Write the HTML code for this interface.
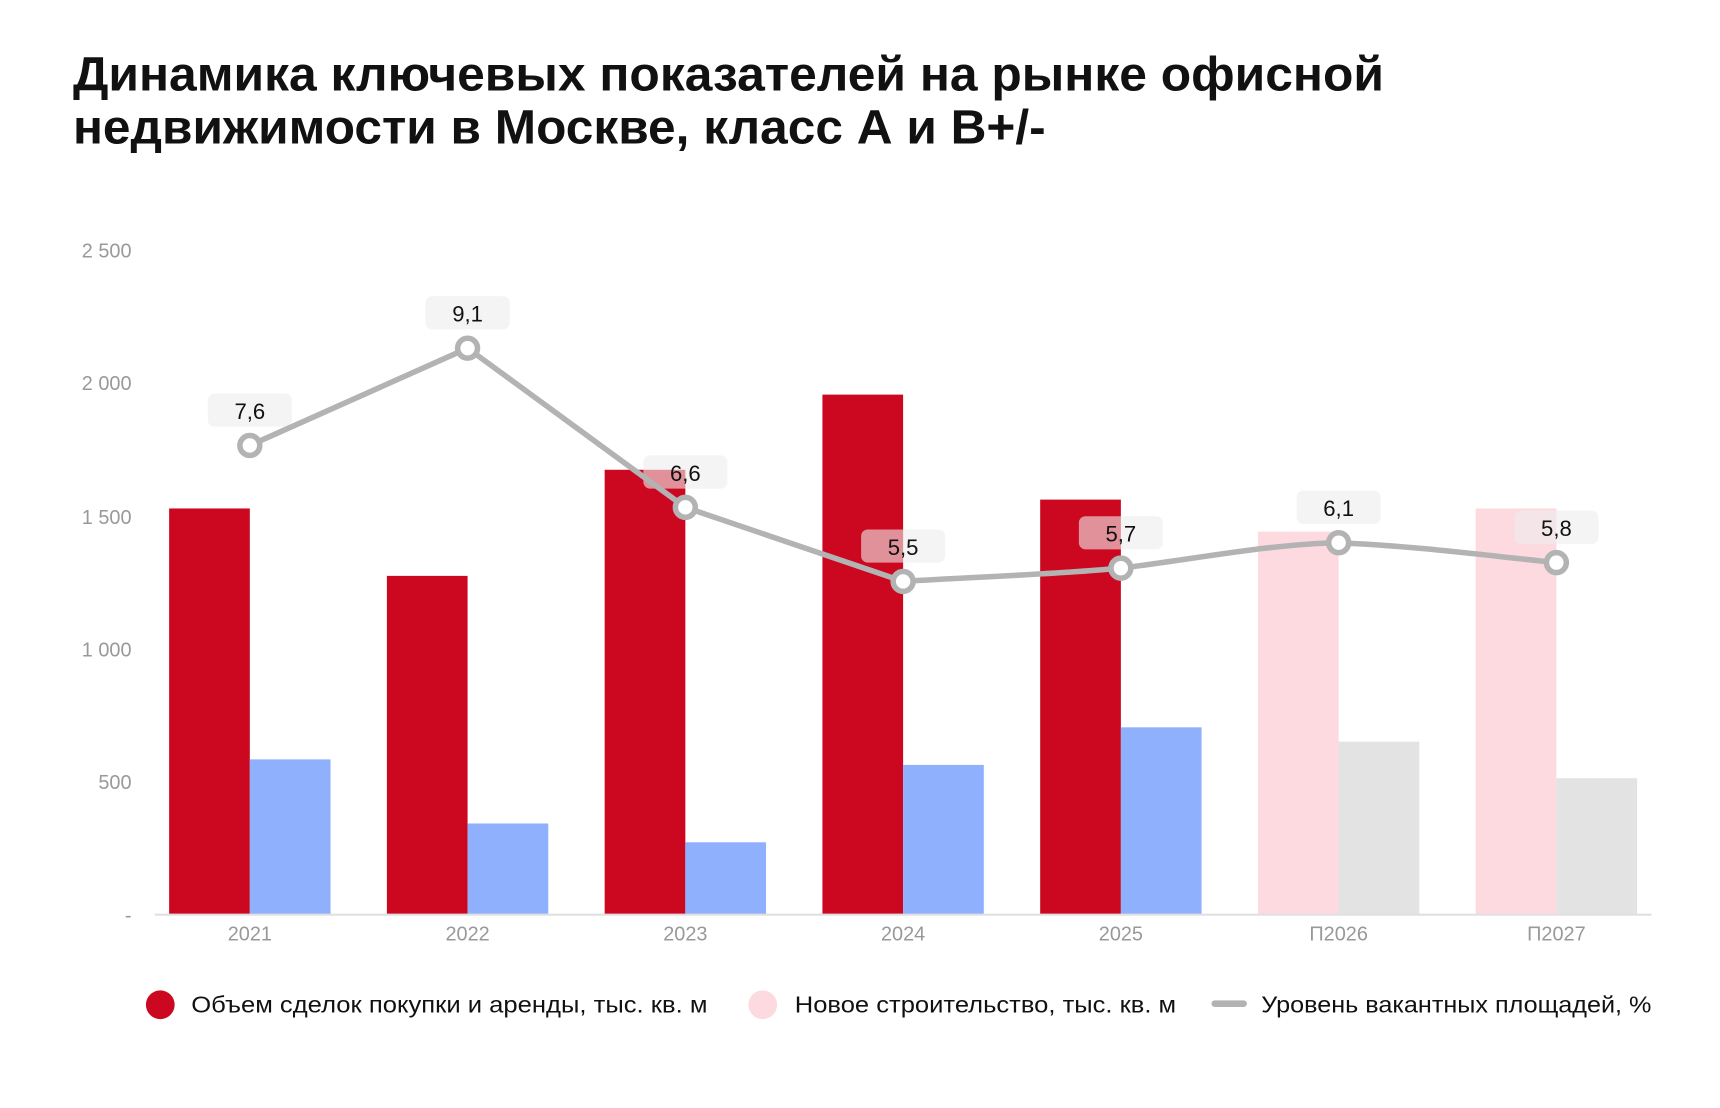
<!DOCTYPE html>
<html><head><meta charset="utf-8"><style>
html,body{margin:0;padding:0;background:#fff;}
svg{display:block;}
text{font-family:"Liberation Sans","DejaVu Sans",sans-serif;}
</style></head><body>
<svg width="1720" height="1108" viewBox="0 0 1556 1002.4" preserveAspectRatio="none" xmlns="http://www.w3.org/2000/svg">
<text x="66" y="82" font-size="44" font-weight="bold" fill="#111" textLength="1186" lengthAdjust="spacingAndGlyphs">Динамика ключевых показателей на рынке офисной</text>
<text x="66" y="130" font-size="44" font-weight="bold" fill="#111" textLength="880" lengthAdjust="spacingAndGlyphs">недвижимости в Москве, класс А и В+/-</text>
<g font-size="18" fill="#999" text-anchor="end">
<text x="119" y="233">2 500</text>
<text x="119" y="353">2 000</text>
<text x="119" y="474">1 500</text>
<text x="119" y="594">1 000</text>
<text x="119" y="714">500</text>
<text x="119" y="834">-</text>
</g>
<g>
<rect x="153" y="460" width="73" height="367" fill="#cc0820"/>
<rect x="226" y="687" width="73" height="140" fill="#8eb0fd"/>
<rect x="350" y="521" width="73" height="306" fill="#cc0820"/>
<rect x="423" y="745" width="73" height="82" fill="#8eb0fd"/>
<rect x="547" y="425" width="73" height="402" fill="#cc0820"/>
<rect x="620" y="762" width="73" height="65" fill="#8eb0fd"/>
<rect x="744" y="357" width="73" height="470" fill="#cc0820"/>
<rect x="817" y="692" width="73" height="135" fill="#8eb0fd"/>
<rect x="941" y="452" width="73" height="375" fill="#cc0820"/>
<rect x="1014" y="658" width="73" height="169" fill="#8eb0fd"/>
<rect x="1138" y="481" width="73" height="346" fill="#fddae0"/>
<rect x="1211" y="671" width="73" height="156" fill="#e3e3e3"/>
<rect x="1335" y="460" width="73" height="367" fill="#fddae0"/>
<rect x="1408" y="704" width="73" height="123" fill="#e3e3e3"/>
</g>
<line x1="140" y1="827.5" x2="1494" y2="827.5" stroke="#e0e0e0" stroke-width="2"/>
<g font-size="18" fill="#999" text-anchor="middle">
<text x="226" y="851">2021</text><text x="423" y="851">2022</text><text x="620" y="851">2023</text>
<text x="817" y="851">2024</text><text x="1014" y="851">2025</text><text x="1211" y="851">П2026</text><text x="1408" y="851">П2027</text>
</g>
<g fill="rgba(236,236,236,0.6)">
<rect x="188" y="356" width="76" height="30" rx="6"/>
<rect x="385" y="268" width="76" height="30" rx="6"/>
<rect x="582" y="412" width="76" height="30" rx="6"/>
<rect x="779" y="479" width="76" height="30" rx="6"/>
<rect x="976" y="467" width="76" height="30" rx="6"/>
<rect x="1173" y="444" width="76" height="30" rx="6"/>
<rect x="1370" y="462" width="76" height="30" rx="6"/>
</g>
<g font-size="20" fill="#111" text-anchor="middle">
<text x="226" y="379">7,6</text><text x="423" y="291">9,1</text><text x="620" y="435">6,6</text>
<text x="817" y="502">5,5</text><text x="1014" y="490">5,7</text><text x="1211" y="467">6,1</text><text x="1408" y="485">5,8</text>
</g>
<path d="M226,403 L423,315 L620,459 L817,526 C880,522 950,520 1014,514 C1080,506 1150,492 1211,491 C1280,494 1340,502 1408,509" fill="none" stroke="#b3b3b3" stroke-width="5" stroke-linejoin="round"/>
<g fill="#fff" stroke="#b3b3b3" stroke-width="5">
<circle cx="226" cy="403" r="9"/><circle cx="423" cy="315" r="9"/><circle cx="620" cy="459" r="9"/>
<circle cx="817" cy="526" r="9"/><circle cx="1014" cy="514" r="9"/><circle cx="1211" cy="491" r="9"/><circle cx="1408" cy="509" r="9"/>
</g>
<circle cx="145" cy="909" r="13" fill="#cc0820"/>
<text x="173" y="916" font-size="21" fill="#111" textLength="467" lengthAdjust="spacingAndGlyphs">Объем сделок покупки и аренды, тыс. кв. м</text>
<circle cx="690" cy="909" r="13" fill="#fddae0"/>
<text x="719" y="916" font-size="21" fill="#111" textLength="345" lengthAdjust="spacingAndGlyphs">Новое строительство, тыс. кв. м</text>
<line x1="1099" y1="908" x2="1125" y2="908" stroke="#b3b3b3" stroke-width="6" stroke-linecap="round"/>
<text x="1141" y="916" font-size="21" fill="#111" textLength="353" lengthAdjust="spacingAndGlyphs">Уровень вакантных площадей, %</text>
</svg>
</body></html>
